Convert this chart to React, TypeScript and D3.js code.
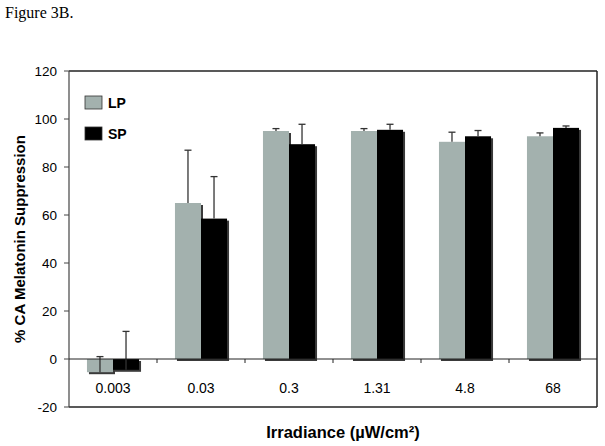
import React from "react";
import * as d3 from "d3";

const categories = ["0.003", "0.03", "0.3", "1.31", "4.8", "68"];
const seriesNames = ["LP", "SP"];
const lpValues = [-5.5, 65, 95, 95, 90.5, 92.8];
const spValues = [-4.5, 58.5, 89.5, 95.5, 92.8, 96.3];
const lpErrors = [6.5, 22, 1, 1, 4, 1.4];
const spErrors = [16, 17.5, 8.3, 2.3, 2.4, 0.8];
const yTicks = [-20, 0, 20, 40, 60, 80, 100, 120];

const W = 605;
const H = 446;
const left = 69;
const right = 597;
const top = 71;
const bottom = 407;

const colors: Record<string, string> = { LP: "#a3b1ae", SP: "#000000" };

export default function App() {
  const y = d3.scaleLinear().domain([-20, 120]).range([bottom, top]);
  const x = d3.scaleBand<string>().domain(categories).range([left, right]).padding(0);
  const xs = d3
    .scaleBand<string>()
    .domain(seriesNames)
    .range([0, x.bandwidth()])
    .paddingInner(0)
    .paddingOuter(0.69);

  const bars = categories.flatMap((c, i) => [
    { c, s: "LP", v: lpValues[i], e: lpErrors[i] },
    { c, s: "SP", v: spValues[i], e: spErrors[i] },
  ]);
  const y0 = y(0);
  const font = "Liberation Sans, Arial, Helvetica, sans-serif";

  return (
    <svg
      width={W}
      height={H}
      style={{ position: "absolute", left: 0, top: 0, background: "#fff" }}
    >
      <rect x={0} y={0} width={W} height={H} fill="#fff" />
      <text x={5} y={18} fontFamily="Liberation Serif, Times New Roman, serif" fontSize={16} fill="#000">
        Figure 3B.
      </text>

      {/* shadows */}
      {bars.map((b, i) => {
        const bx = (x(b.c) as number) + (xs(b.s) as number);
        const yv = y(b.v);
        return (
          <rect
            key={"sh" + i}
            x={bx + 2}
            y={Math.min(yv, y0) + 2}
            width={xs.bandwidth()}
            height={Math.abs(yv - y0)}
            fill="#3a3a3a"
          />
        );
      })}
      {/* bars */}
      {bars.map((b, i) => {
        const bx = (x(b.c) as number) + (xs(b.s) as number);
        const yv = y(b.v);
        return (
          <rect
            key={"b" + i}
            x={bx}
            y={Math.min(yv, y0)}
            width={xs.bandwidth()}
            height={Math.abs(yv - y0)}
            fill={colors[b.s]}
          />
        );
      })}
      {/* error bars */}
      {bars.map((b, i) => {
        const cx = (x(b.c) as number) + (xs(b.s) as number) + xs.bandwidth() / 2;
        const y1 = y(b.v);
        const y2 = y(b.v + b.e);
        return (
          <g key={"e" + i} stroke="#333" strokeWidth={1.3}>
            <line x1={cx} x2={cx} y1={y1} y2={y2} />
            <line x1={cx - 3.5} x2={cx + 3.5} y1={y2} y2={y2} />
          </g>
        );
      })}

      {/* frame */}
      <line x1={left} x2={right} y1={top} y2={top} stroke="#222" strokeWidth={1.5} />
      <line x1={right} x2={right} y1={top} y2={bottom} stroke="#222" strokeWidth={1.5} />
      <line x1={left} x2={right} y1={bottom} y2={bottom} stroke="#222" strokeWidth={1.3} />
      <line x1={left} x2={left} y1={top} y2={bottom} stroke="#444" strokeWidth={1.2} />

      {/* zero axis */}
      <line x1={left} x2={right} y1={y0} y2={y0} stroke="#222" strokeWidth={1} />
      {categories.slice(1).map((c) => (
        <line
          key={"xt" + c}
          x1={x(c) as number}
          x2={x(c) as number}
          y1={y0}
          y2={y0 + 4}
          stroke="#222"
        />
      ))}

      {/* y ticks */}
      {yTicks.map((t) => (
        <g key={"yt" + t}>
          <line x1={left - 5} x2={left} y1={y(t)} y2={y(t)} stroke="#444" />
          <text
            x={57}
            y={y(t) + 5}
            textAnchor="end"
            fontFamily={font}
            fontSize={13.5}
            fill="#000"
          >
            {t}
          </text>
        </g>
      ))}

      {/* category labels */}
      {categories.map((c) => (
        <text
          key={"cl" + c}
          x={(x(c) as number) + x.bandwidth() / 2}
          y={393}
          textAnchor="middle"
          fontFamily={font}
          fontSize={14}
          fill="#000"
        >
          {c}
        </text>
      ))}

      {/* legend */}
      {seriesNames.map((s, i) => (
        <g key={"lg" + s}>
          <rect
            x={85}
            y={96 + i * 31}
            width={17}
            height={13}
            fill={colors[s]}
            stroke="#333"
            strokeWidth={0.8}
          />
          <text
            x={108}
            y={108 + i * 31}
            fontFamily={font}
            fontSize={14}
            fontWeight="bold"
            fill="#000"
          >
            {s}
          </text>
        </g>
      ))}

      {/* axis titles */}
      <text
        transform={`translate(25, ${(top + bottom) / 2}) rotate(-90)`}
        textAnchor="middle"
        fontFamily={font}
        fontSize={15}
        fontWeight="bold"
        fill="#000"
      >
        % CA Melatonin Suppression
      </text>
      <text
        x={343}
        y={438}
        textAnchor="middle"
        fontFamily={font}
        fontSize={16.5}
        fontWeight="bold"
        fill="#000"
      >
        Irradiance (µW/cm²)
      </text>
    </svg>
  );
}
